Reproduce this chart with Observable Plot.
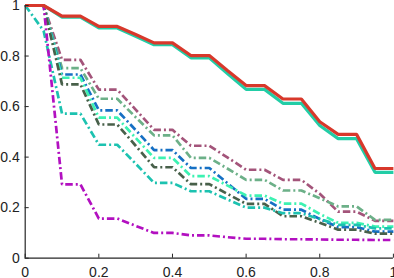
<!DOCTYPE html>
<html><head><meta charset="utf-8">
<script src="https://cdn.jsdelivr.net/npm/d3@7"></script>
<script src="https://cdn.jsdelivr.net/npm/@observablehq/plot@0.6"></script>
<style>
html,body{margin:0;padding:0;background:#fff}
#chart svg{display:block}
#chart svg text{font-family:"Liberation Sans",Arial,Helvetica,sans-serif !important;font-size:14px !important;fill:#222}
</style>
</head><body><div id="chart"></div>
<script>
// x positions
const xs = [0, 0.05, 0.1, 0.15, 0.2, 0.25, 0.3, 0.35, 0.4, 0.45, 0.5, 0.55, 0.6, 0.65, 0.7, 0.75, 0.8, 0.85, 0.9, 0.95, 1];

// series values
const redVals        = [1, 1, 0.958, 0.958, 0.917, 0.917, 0.885, 0.852, 0.852, 0.802, 0.802, 0.742, 0.683, 0.683, 0.630, 0.630, 0.540, 0.490, 0.490, 0.355, 0.355];
const tealVals       = [1, 1, 0.954, 0.954, 0.911, 0.911, 0.878, 0.845, 0.845, 0.793, 0.793, 0.730, 0.668, 0.668, 0.613, 0.613, 0.525, 0.473, 0.473, 0.340, 0.340];
const mauveVals      = [1, 1, 0.785, 0.785, 0.667, 0.667, 0.588, 0.508, 0.508, 0.445, 0.445, 0.398, 0.350, 0.350, 0.310, 0.310, 0.255, 0.184, 0.184, 0.148, 0.148];
const lightGreenVals = [1, 1, 0.752, 0.752, 0.631, 0.631, 0.558, 0.486, 0.486, 0.397, 0.397, 0.354, 0.310, 0.310, 0.268, 0.268, 0.237, 0.205, 0.205, 0.152, 0.152];
const blueVals       = [1, 1, 0.727, 0.727, 0.585, 0.585, 0.507, 0.428, 0.428, 0.357, 0.357, 0.296, 0.235, 0.235, 0.192, 0.192, 0.155, 0.123, 0.123, 0.105, 0.105];
const aquaVals       = [1, 1, 0.714, 0.714, 0.556, 0.556, 0.476, 0.397, 0.397, 0.325, 0.325, 0.287, 0.248, 0.248, 0.216, 0.216, 0.175, 0.140, 0.140, 0.125, 0.125];
const darkGreenVals  = [1, 1, 0.688, 0.688, 0.529, 0.529, 0.445, 0.360, 0.360, 0.293, 0.293, 0.254, 0.215, 0.215, 0.166, 0.166, 0.140, 0.113, 0.113, 0.097, 0.097];
const turquoiseVals  = [1, 0.900, 0.572, 0.572, 0.449, 0.449, 0.374, 0.298, 0.298, 0.265, 0.265, 0.232, 0.200, 0.200, 0.178, 0.178, 0.155, 0.132, 0.132, 0.118, 0.118];
const purpleVals     = [1, 1, 0.292, 0.292, 0.157, 0.157, 0.128, 0.100, 0.100, 0.090, 0.090, 0.083, 0.077, 0.077, 0.075, 0.075, 0.074, 0.073, 0.073, 0.072, 0.072];

// tick values and labels
const xTicks = [0, 0.2, 0.4, 0.6, 0.8, 1];
const xTickLabels = ["0", "0.2", "0.4", "0.6", "0.8", "1"];
const yTicks = [0, 0.2, 0.4, 0.6, 0.8, 1];
const yTickLabels = ["0", "0.2", "0.4", "0.6", "0.8", "1"];

// series (drawing order)
const seriesNames = ["mauve", "lightGreen", "blue", "aqua", "darkGreen", "turquoise", "purple", "teal", "red"];
const seriesValues = {
  mauve: mauveVals, lightGreen: lightGreenVals, blue: blueVals, aqua: aquaVals,
  darkGreen: darkGreenVals, turquoise: turquoiseVals, purple: purpleVals, teal: tealVals, red: redVals
};

// styles
const styles = {
  red:        {color: "#d8382b", width: 3.2, dash: null},
  teal:       {color: "#22cda6", width: 3.2, dash: null},
  mauve:      {color: "#a3547a", width: 2.7, dash: "7.5,3,2,3"},
  lightGreen: {color: "#6cb088", width: 2.7, dash: "7.5,3,2,3"},
  blue:       {color: "#1670c4", width: 2.7, dash: "7.5,3,2,3"},
  aqua:       {color: "#3cf2b2", width: 2.7, dash: "7.5,3,2,3"},
  darkGreen:  {color: "#48604a", width: 2.7, dash: "7.5,3,2,3"},
  turquoise:  {color: "#1cc2b0", width: 2.7, dash: "7.5,3,2,3"},
  purple:     {color: "#b210c0", width: 2.7, dash: "7.5,3,2,3"}
};

const lineMarks = seriesNames.map(name => {
  const rows = xs.map((x, i) => ({x, y: seriesValues[name][i]}));
  const s = styles[name];
  return Plot.line(rows, {
    x: "x", y: "y", stroke: s.color, strokeWidth: s.width,
    strokeDasharray: s.dash, strokeLinejoin: "miter", strokeLinecap: "butt"
  });
});

const ink = "#262626";

const chart = Plot.plot({
  width: 394,
  height: 278,
  marginLeft: 24.7,
  marginRight: 1.1,
  marginTop: 5,
  marginBottom: 20.3,
  style: {background: "#fff", fontSize: "14px", color: ink},
  x: {domain: [0, 1]},
  y: {domain: [0, 1]},
  marks: [
    ...lineMarks,
    Plot.ruleX([0], {stroke: ink, strokeWidth: 1.2}),
    Plot.ruleY([0], {stroke: ink, strokeWidth: 1.2}),
    Plot.axisX(xTicks, {anchor: "bottom", tickSize: -4, tickPadding: 12.5, stroke: ink, fill: ink, fontSize: 14,
      tickFormat: (d, i) => xTickLabels[i], label: null}),
    Plot.axisY(yTicks, {anchor: "left", tickSize: -4, tickPadding: 9.5, stroke: ink, fill: ink, fontSize: 14,
      tickFormat: (d, i) => yTickLabels[i], label: null})
  ]
});
document.getElementById("chart").appendChild(chart);
</script>
</body></html>
